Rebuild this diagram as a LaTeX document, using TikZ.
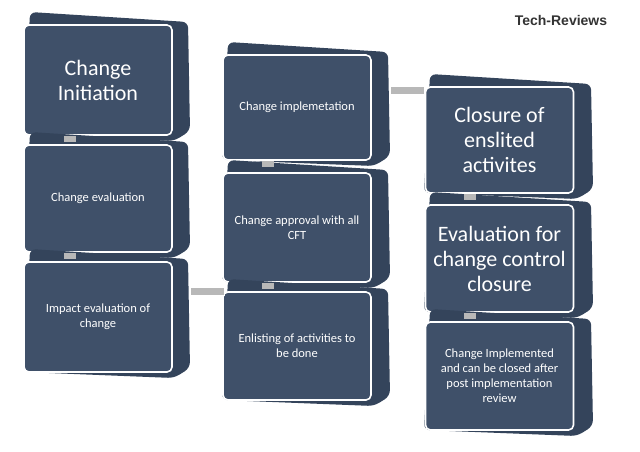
\documentclass[tikz,border=0pt]{standalone}
\usepackage{fontspec}
\setmainfont{Carlito}
\newfontfamily\hd{Liberation Sans}
\definecolor{slate}{HTML}{3F5069}
\definecolor{slateb}{HTML}{34445B}
\definecolor{conn}{HTML}{B8B8B8}
\tikzset{
 front/.style={fill=slate,draw=white,line width=1.6pt,rounded corners=5pt,minimum width=148pt,text width=128pt,align=center,text=white,inner sep=0pt},
 big/.style={font=\fontsize{22}{25}\selectfont},
 small/.style={font=\fontsize{12.5}{15}\selectfont},
 cn/.style={fill=conn,draw=white,line width=0.4pt}
}
\newcommand\slab[6]{% name, x1,y1,x2,y2, style+text
 \fill[slateb,rounded corners=6pt] (#2+6,#3-13) -- (#4+16,#3-3) -- (#4+18,#5-4) -- (#4+2,#5+6) -- (#2,#5) -- cycle;
 \node[front,#6] (#1) at ({(#2+#4)/2},{(#3+#5)/2}) [minimum height={#5-#3}] {};
}
\begin{document}
\begin{tikzpicture}[x=1pt,y=-1pt]
\useasboundingbox[fill=white] (0,0) rectangle (640,451);
\slab{b1}{24}{25}{172}{135}{}
\slab{b2}{24}{145}{172}{252}{}
\slab{b3}{24}{262}{172}{372}{}
\slab{b4}{222}{55}{372}{160}{}
\slab{b5}{222}{173}{372}{282}{}
\slab{b6}{222}{292}{372}{400}{}
\slab{b7}{424}{87}{575}{193}{}
\slab{b8}{424}{205}{575}{312}{}
\slab{b9}{424}{322}{575}{430}{}
\foreach \x/\y in {70/135,70/252,268/160,268/282,470/193,470/312}{\fill[conn] (\x-6,\y+1) rectangle (\x+6,\y+7);}
\node[cn,minimum width=34pt,minimum height=8pt,inner sep=0pt] (h1) at (207,291) {};
\node[cn,minimum width=34pt,minimum height=8pt,inner sep=0pt] (h2) at (407,90) {};
\node[big,text=white,align=center] at (b1) {Change\\Initiation};
\node[small,text=white,align=center] at (b2) {Change evaluation};
\node[small,text=white,align=center] at (b3) {Impact evaluation of\\change};
\node[small,text=white,align=center] at (b4) {Change implemetation};
\node[small,text=white,align=center] at (b5) {Change approval with all\\CFT};
\node[small,text=white,align=center] at (b6) {Enlisting of activities to\\be done};
\node[big,text=white,align=center] at (b7) {Closure of\\enslited\\activites};
\node[big,text=white,align=center] at (b8) {Evaluation for\\change control\\closure};
\node[small,text=white,align=center] at (b9) {Change Implemented\\and can be closed after\\post implementation\\review};
\node[font=\hd\bfseries\fontsize{14}{16}\selectfont,text=black!80] (t) at (561,20) {Tech-Reviews};
\end{tikzpicture}
\end{document}
